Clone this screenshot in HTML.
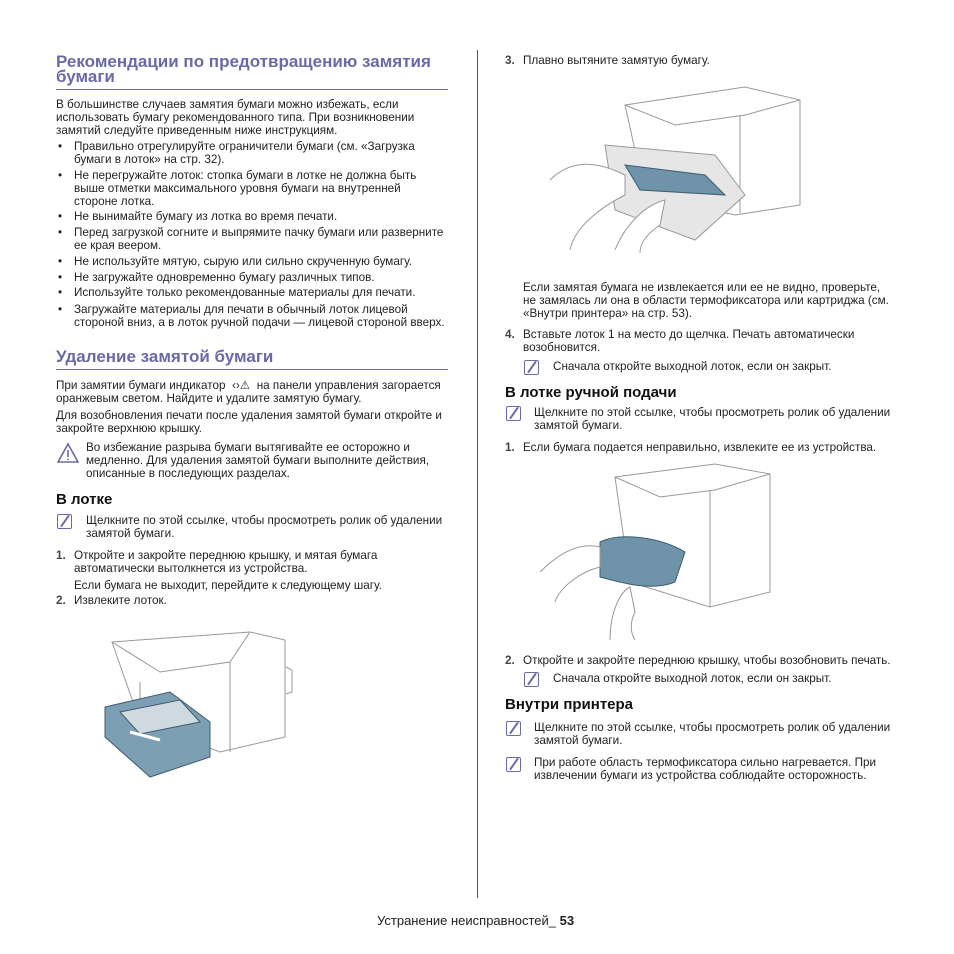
<!DOCTYPE html>
<html><head><meta charset="utf-8"><style>
body{margin:0;width:954px;height:954px;background:#fff;position:relative;overflow:hidden;font-family:"Liberation Sans",Arial,sans-serif;color:#222;}
.t{position:absolute;font-size:11.7px;line-height:13px;white-space:nowrap;}
.h1{position:absolute;font-size:17px;font-weight:bold;color:#6a6aa6;line-height:15px;white-space:nowrap;}
.h2{position:absolute;font-size:15px;font-weight:bold;color:#111;white-space:nowrap;}
.rule{position:absolute;height:1px;background:#6a6aa6;}
.b{position:absolute;font-size:11.7px;line-height:13px;}
.n{position:absolute;font-size:11.7px;font-weight:bold;line-height:13px;color:#444}
.note{position:absolute;width:13px;height:13px;border:1.5px solid #6a6aa6;border-radius:2px;}
.note:after{content:"";position:absolute;left:6px;top:-1px;width:2px;height:14px;background:#6a6aa6;transform:rotate(35deg);}
</style></head><body>
<div style="position:absolute;left:477px;top:50px;width:1px;height:848px;background:#555"></div>

<div class="h1" style="left:56px;top:54px">Рекомендации по предотвращению замятия</div>
<div class="h1" style="left:56px;top:69px">бумаги</div>
<div class="rule" style="left:56px;top:89px;width:392px"></div>
<div class="t" style="left:56px;top:98px">В большинстве случаев замятия бумаги можно избежать, если<br>использовать бумагу рекомендованного типа. При возникновении<br>замятий следуйте приведенным ниже инструкциям.</div>
<div class="b" style="left:58px;top:140px">•</div><div class="t" style="left:74px;top:140px">Правильно отрегулируйте ограничители бумаги (см. «Загрузка<br>бумаги в лоток» на стр. 32).</div>
<div class="b" style="left:58px;top:169px">•</div><div class="t" style="left:74px;top:169px">Не перегружайте лоток: стопка бумаги в лотке не должна быть<br>выше отметки максимального уровня бумаги на внутренней<br>стороне лотка.</div>
<div class="b" style="left:58px;top:210px">•</div><div class="t" style="left:74px;top:210px">Не вынимайте бумагу из лотка во время печати.</div>
<div class="b" style="left:58px;top:226px">•</div><div class="t" style="left:74px;top:226px">Перед загрузкой согните и выпрямите пачку бумаги или разверните<br>ее края веером.</div>
<div class="b" style="left:58px;top:255px">•</div><div class="t" style="left:74px;top:255px">Не используйте мятую, сырую или сильно скрученную бумагу.</div>
<div class="b" style="left:58px;top:271px">•</div><div class="t" style="left:74px;top:271px">Не загружайте одновременно бумагу различных типов.</div>
<div class="b" style="left:58px;top:286px">•</div><div class="t" style="left:74px;top:286px">Используйте только рекомендованные материалы для печати.</div>
<div class="b" style="left:58px;top:303px">•</div><div class="t" style="left:74px;top:303px">Загружайте материалы для печати в обычный лоток лицевой<br>стороной вниз, а в лоток ручной подачи — лицевой стороной вверх.</div>

<div class="h1" style="left:56px;top:349px">Удаление замятой бумаги</div>
<div class="rule" style="left:56px;top:369px;width:392px"></div>
<div class="t" style="left:56px;top:379px">При замятии бумаги индикатор &nbsp;‹›⚠ &nbsp;на панели управления загорается<br>оранжевым светом. Найдите и удалите замятую бумагу.</div>
<div class="t" style="left:56px;top:409px">Для возобновления печати после удаления замятой бумаги откройте и<br>закройте верхнюю крышку.</div>
<svg style="position:absolute;left:57px;top:442px" width="22" height="22"><path d="M11 2 L21 20 L1 20 Z" fill="none" stroke="#6a6aa6" stroke-width="1.6"/><rect x="10.2" y="8" width="1.6" height="7" fill="#6a6aa6"/><rect x="10.2" y="16.5" width="1.6" height="1.6" fill="#6a6aa6"/></svg>
<div class="t" style="left:86px;top:441px">Во избежание разрыва бумаги вытягивайте ее осторожно и<br>медленно. Для удаления замятой бумаги выполните действия,<br>описанные в последующих разделах.</div>

<div class="h2" style="left:56px;top:491px">В лотке</div>
<div class="note" style="left:57px;top:514px"></div>
<div class="t" style="left:86px;top:514px">Щелкните по этой ссылке, чтобы просмотреть ролик об удалении<br>замятой бумаги.</div>
<div class="n" style="left:56px;top:549px">1.</div><div class="t" style="left:74px;top:549px">Откройте и закройте переднюю крышку, и мятая бумага<br>автоматически вытолкнется из устройства.</div>
<div class="t" style="left:74px;top:579px">Если бумага не выходит, перейдите к следующему шагу.</div>
<div class="n" style="left:56px;top:594px">2.</div><div class="t" style="left:74px;top:594px">Извлеките лоток.</div>

<svg style="position:absolute;left:100px;top:612px" width="195" height="180" fill="none" stroke="#999" stroke-width="1">
<path d="M12 30 L150 20 L185 28 L185 125 L120 140 L40 110 Z" fill="#fff"/>
<path d="M12 30 L60 60 L130 50 L150 20"/><path d="M130 50 L130 140"/><path d="M40 110 L40 70"/>
<path d="M186 55 L192 58 L192 80 L186 82"/>
<path d="M5 95 L70 80 L110 110 L110 145 L50 165 L5 125 Z" fill="#7d9fb3" stroke="#3d5c70"/>
<path d="M20 100 L80 88 L100 110 L40 122 Z" fill="#cfd9e0" stroke="#3d5c70"/>
<path d="M30 120 L60 128" stroke="#fff" stroke-width="3"/>
</svg>

<div class="n" style="left:505px;top:54px">3.</div><div class="t" style="left:523px;top:54px">Плавно вытяните замятую бумагу.</div>
<svg style="position:absolute;left:545px;top:85px" width="262" height="168" fill="none" stroke="#999" stroke-width="1">
<path d="M80 20 L200 2 L255 15 L255 120 L190 130 L100 110 Z" fill="#fff"/>
<path d="M80 20 L130 40 L200 30 L255 15"/><path d="M195 30 L195 128"/>
<path d="M60 60 L170 70 L200 110 L150 155 L70 125 Z" fill="#e6e6e6"/>
<path d="M80 80 L160 90 L180 110 L95 105 Z" fill="#6f93a8" stroke="#3d5c70"/>
<path d="M5 95 C30 70 60 80 80 90 L80 110 C60 120 30 140 25 165" fill="#fff"/>
<path d="M70 165 C80 140 100 120 120 115 L115 140 C100 150 95 160 95 168" fill="#fff"/>
</svg>
<div class="t" style="left:523px;top:281px">Если замятая бумага не извлекается или ее не видно, проверьте,<br>не замялась ли она в области термофиксатора или картриджа (см.<br>«Внутри принтера» на стр. 53).</div>
<div class="n" style="left:505px;top:328px">4.</div><div class="t" style="left:523px;top:328px">Вставьте лоток 1 на место до щелчка. Печать автоматически<br>возобновится.</div>
<div class="note" style="left:524px;top:360px"></div>
<div class="t" style="left:553px;top:360px">Сначала откройте выходной лоток, если он закрыт.</div>

<div class="h2" style="left:505px;top:384px">В лотке ручной подачи</div>
<div class="note" style="left:506px;top:406px"></div>
<div class="t" style="left:534px;top:406px">Щелкните по этой ссылке, чтобы просмотреть ролик об удалении<br>замятой бумаги.</div>
<div class="n" style="left:505px;top:441px">1.</div><div class="t" style="left:523px;top:441px">Если бумага подается неправильно, извлеките ее из устройства.</div>
<svg style="position:absolute;left:540px;top:462px" width="235" height="180" fill="none" stroke="#999" stroke-width="1">
<path d="M75 15 L175 2 L230 12 L230 130 L170 145 L90 120 Z" fill="#fff"/>
<path d="M75 15 L120 35 L175 28 L230 12"/><path d="M170 28 L170 145"/>
<path d="M60 80 C80 70 120 75 145 90 L135 120 C110 130 80 120 60 115 Z" fill="#6f93a8" stroke="#3d5c70"/>
<path d="M0 110 C20 90 40 80 60 85 L60 105 C40 110 20 125 15 140" fill="#fff"/>
<path d="M70 178 C70 150 80 130 90 125 L95 150 C90 160 90 170 95 178" fill="#fff"/>
</svg>
<div class="n" style="left:505px;top:654px">2.</div><div class="t" style="left:523px;top:654px">Откройте и закройте переднюю крышку, чтобы возобновить печать.</div>
<div class="note" style="left:524px;top:672px"></div>
<div class="t" style="left:553px;top:672px">Сначала откройте выходной лоток, если он закрыт.</div>

<div class="h2" style="left:505px;top:696px">Внутри принтера</div>
<div class="note" style="left:506px;top:721px"></div>
<div class="t" style="left:534px;top:721px">Щелкните по этой ссылке, чтобы просмотреть ролик об удалении<br>замятой бумаги.</div>
<div class="note" style="left:506px;top:757px"></div>
<div class="t" style="left:534px;top:756px">При работе область термофиксатора сильно нагревается. При<br>извлечении бумаги из устройства соблюдайте осторожность.</div>

<div class="t" style="left:377px;top:914px;font-size:13px">Устранение неисправностей_ <b>53</b></div>
</body></html>
